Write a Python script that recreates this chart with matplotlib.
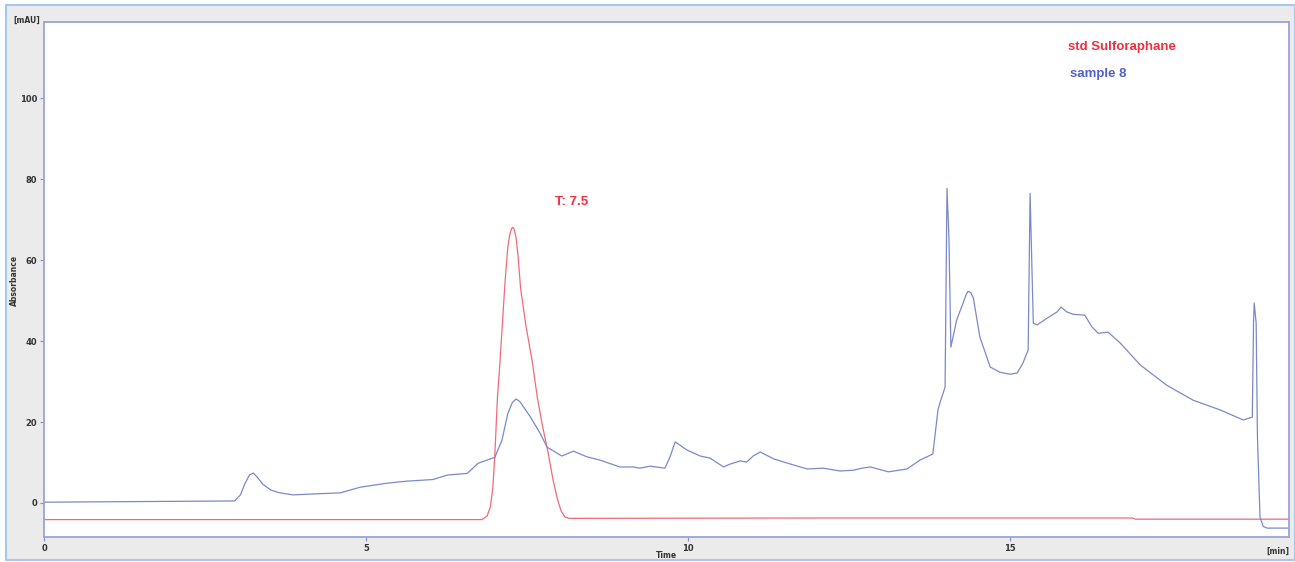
import matplotlib.pyplot as plt
from matplotlib.patches import Rectangle

# retention time [min] / absorbance [mAU]
std_t = [0.0, 6.80, 6.88, 6.93, 6.97, 7.00, 7.04, 7.08, 7.16, 7.20, 7.23, 7.26, 7.28,
         7.30, 7.33, 7.36, 7.40, 7.48, 7.58, 7.66, 7.74, 7.82, 7.90, 7.97, 8.03,
         8.09, 8.16, 12.0, 16.90, 16.95, 19.33]
std_v = [-4.1, -4.1, -3.2, -1.0, 4.0, 12.0, 26.0, 35.0, 55.0, 63.0, 66.2, 67.8, 68.1,
         67.6, 65.5, 61.0, 53.0, 44.0, 35.0, 26.0, 19.0, 13.0, 6.0, 1.0, -2.0,
         -3.5, -3.8, -3.7, -3.7, -4.0, -4.0]

smp_t = [0.0, 2.96, 3.05, 3.12, 3.19, 3.25, 3.31, 3.40, 3.52, 3.66, 3.87, 4.13, 4.60,
         4.91, 5.33, 5.64, 6.04, 6.26, 6.57, 6.74, 7.00, 7.11, 7.20, 7.27, 7.33, 7.39,
         7.55, 7.70, 7.81, 8.04, 8.22, 8.43, 8.63, 8.94, 9.15, 9.25, 9.41, 9.64, 9.72,
         9.80, 9.98, 10.19, 10.34, 10.55, 10.65, 10.81, 10.91, 11.01, 11.12, 11.33,
         11.53, 11.85, 12.10, 12.36, 12.57, 12.70, 12.83, 13.11, 13.40, 13.60, 13.80,
         13.88, 13.91, 13.99, 14.02, 14.05, 14.08, 14.17, 14.27, 14.32, 14.35, 14.39,
         14.43, 14.53, 14.69, 14.84, 15.00, 15.11, 15.20, 15.28, 15.31, 15.36, 15.42,
         15.57, 15.73, 15.79, 15.88, 15.98, 16.16, 16.27, 16.37, 16.52, 16.71, 17.02,
         17.43, 17.84, 18.26, 18.62, 18.76, 18.78, 18.79, 18.82, 18.84, 18.88, 18.93,
         18.99, 19.33]
smp_v = [0.2, 0.5, 2.0, 4.8, 6.9, 7.4, 6.4, 4.6, 3.2, 2.5, 2.0, 2.2, 2.5,
         3.9, 4.9, 5.4, 5.8, 6.9, 7.3, 9.8, 11.3, 15.5, 22.0, 24.8, 25.7, 25.0,
         21.3, 17.3, 13.8, 11.6, 12.8, 11.4, 10.6, 8.9, 8.9, 8.6, 9.1, 8.6, 11.4,
         15.1, 13.1, 11.6, 11.1, 8.9, 9.6, 10.4, 10.1, 11.6, 12.6, 10.9,
         9.9, 8.4, 8.6, 7.9, 8.1, 8.6, 8.9, 7.7, 8.4, 10.6, 12.1,
         23.0, 24.7, 28.6, 77.7, 65.7, 38.5, 45.2, 49.4, 51.6, 52.3, 51.9,
         50.6, 41.0, 33.6, 32.3, 31.8, 32.1, 34.6, 37.8, 76.5, 44.4, 44.0,
         45.6, 47.2, 48.4, 47.2, 46.6, 46.4, 43.5, 41.9, 42.2, 39.5, 34.1,
         29.1, 25.4, 23.0, 20.5, 21.2, 45.0, 49.4, 44.4, 16.3, -3.5, -5.8,
         -6.2, -6.2]

fig = plt.figure(figsize=(12.95, 5.62), dpi=100)
fig.patch.set_facecolor('white')
fig.add_artist(Rectangle((6 / 1295, 2 / 562), 1 - 6 / 1295, 1 - 7 / 562,
                         transform=fig.transFigure, facecolor='#ebebeb',
                         edgecolor='#a9c6ee', linewidth=1.5, zorder=0))

ax = fig.add_axes([44 / 1295, 25 / 562, 1245 / 1295, 515 / 562])
ax.set_facecolor('white')
ax.plot(std_t, std_v, color='#f26a78', lw=0.9)
ax.plot(smp_t, smp_v, color='#7a89cd', lw=0.9)

ax.set_xlim(0, 19.33)
ax.set_ylim(-8.4, 118.8)
ax.set_xticks([0, 5, 10, 15])
ax.set_yticks([0, 20, 40, 60, 80, 100])
for s in ax.spines.values():
    s.set_color('#9aa3d9')
    s.set_linewidth(1.3)
ax.tick_params(length=3, width=0.8, color='#7f8bcc', pad=2,
               labelsize=6, labelcolor='#333333')
for lab in ax.get_xticklabels() + ax.get_yticklabels():
    lab.set_fontweight('bold')

ax.text(15.9, 112.6, 'std Sulforaphane', color='#f0303e', fontsize=9.5,
        fontweight='bold', family='Liberation Sans', va='center')
ax.text(15.93, 106.0, 'sample 8', color='#5060cc', fontsize=9.5,
        fontweight='bold', family='Liberation Sans', va='center')
ax.text(7.93, 74.3, 'T: 7.5', color='#f0303e', fontsize=9.5,
        fontweight='bold', family='Liberation Sans', va='center')

fig.text(40 / 1295, 1 - 20 / 562, '[mAU]', ha='right', va='center',
         fontsize=5.5, fontweight='bold', color='#333333')
fig.text(1289 / 1295, 1 - 551 / 562, '[min]', ha='right', va='center',
         fontsize=5.5, fontweight='bold', color='#333333')
fig.text(666 / 1295, 1 - 555 / 562, 'Time', ha='center', va='center',
         fontsize=5.5, fontweight='bold', color='#333333')
fig.text(14 / 1295, 1 - 280 / 562, 'Absorbance', ha='center', va='center',
         rotation=90, fontsize=5.5, fontweight='bold', color='#333333')

fig.savefig('out.png', dpi=100)
